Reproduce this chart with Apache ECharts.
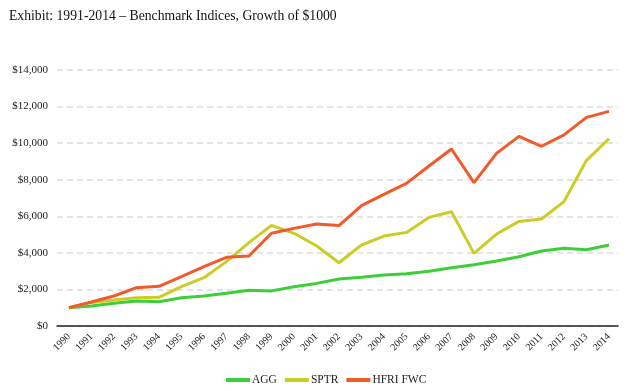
<!DOCTYPE html>
<html><head><meta charset="utf-8">
<script src="https://cdn.jsdelivr.net/npm/echarts@6/dist/echarts.min.js"></script>
<style>html,body{margin:0;padding:0;background:#fff}#c{width:628px;height:391px}</style>
</head><body><div id="c"></div>
<script>
const years = [1990,1991,1992,1993,1994,1995,1996,1997,1998,1999,2000,2001,2002,2003,2004,2005,2006,2007,2008,2009,2010,2011,2012,2013,2014];
const agg  = [1000,1090,1240,1370,1330,1550,1640,1790,1950,1920,2150,2330,2570,2660,2790,2860,2990,3190,3350,3550,3790,4100,4250,4170,4430];
const sptr = [1000,1290,1420,1550,1570,2150,2640,3520,4560,5500,5070,4390,3460,4430,4920,5120,5940,6250,3970,5030,5720,5850,6800,9060,10240];
const hfri = [1000,1310,1640,2096,2170,2700,3245,3755,3830,5070,5340,5580,5490,6580,7200,7800,8750,9680,7840,9440,10370,9830,10450,11410,11740];
const seriesNames = ['AGG','SPTR','HFRI FWC'];
const yTicks = [0,2000,4000,6000,8000,10000,12000,14000];
const colors = ['#3ccf3a','#cccc26','#f15a2b'];
const serif = '"Liberation Serif", "DejaVu Serif", serif';
const pair = arr => years.map((y,i)=>[y,arr[i]]);
const chart = echarts.init(document.getElementById('c'), null, {renderer:'canvas'});
chart.setOption({
  animation:false,
  title:{text:'Exhibit: 1991-2014 – Benchmark Indices, Growth of $1000', left:4, top:4,
    textStyle:{fontFamily:serif, fontSize:13.7, fontWeight:'normal', color:'#111'}},
  grid:{left:57, right:10, top:70, bottom:65, containLabel:false},
  legend:{top:369, left:221, icon:'rect', itemWidth:24, itemHeight:4, itemGap:8,
    textStyle:{fontFamily:serif, fontSize:11.5, color:'#222', padding:[0,0,0,-3]},
    data:seriesNames},
  xAxis:{type:'value', min:1989.47, max:2014.4,
    axisLine:{show:true, lineStyle:{color:'#222', width:1.5}},
    axisTick:{show:false},
    splitLine:{show:false},
    axisLabel:{customValues:years, rotate:45, margin:9, fontFamily:serif, fontSize:10, color:'#222',
      formatter:v=>String(Math.round(v))}},
  yAxis:{type:'value', min:0, max:14000, interval:2000,
    axisLine:{show:false}, axisTick:{show:false},
    splitLine:{lineStyle:{color:'#dcdcdc', type:[6,4], width:1.5}},
    axisLabel:{margin:9, fontFamily:serif, fontSize:11, color:'#222',
      formatter:v=>'$'+v.toLocaleString('en-US')}},
  series:[agg,sptr,hfri].map((d,i)=>({
    name:seriesNames[i], type:'line', data:pair(d), showSymbol:false, symbol:'none',
    lineStyle:{width:3, color:colors[i]}, itemStyle:{color:colors[i]}
  }))
});
</script></body></html>
